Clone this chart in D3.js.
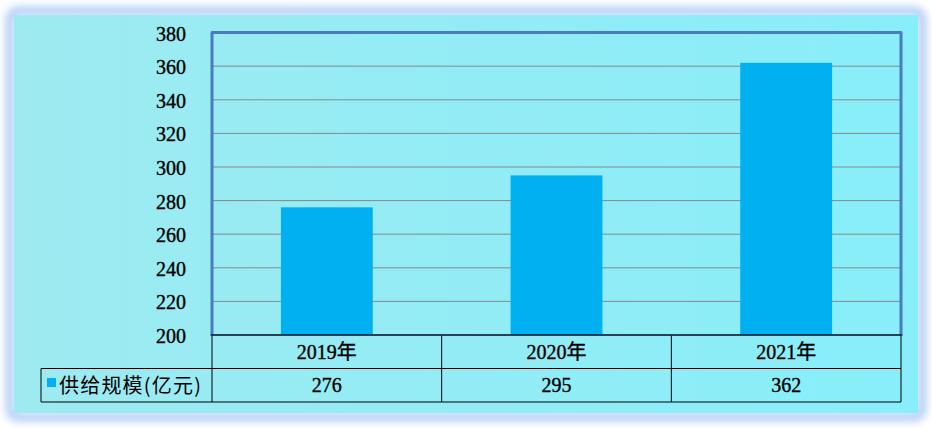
<!DOCTYPE html>
<html><head><meta charset="utf-8">
<script src="https://cdn.jsdelivr.net/npm/d3@7"></script>
<style>html,body{margin:0;padding:0;background:#fff;}svg{display:block;}</style>
</head><body><svg id="c" width="932" height="428"></svg>
<script>
const categories = ["2019年", "2020年", "2021年"];
const seriesName = "供给规模(亿元)";
const values = [276, 295, 362];
const yTicks = [200, 220, 240, 260, 280, 300, 320, 340, 360, 380];

(function(){
const svg = d3.select("#c");
const defs = svg.append("defs");
const grad = defs.append("linearGradient").attr("id","bg").attr("x1","0").attr("x2","1").attr("y1","0").attr("y2","0");
grad.append("stop").attr("offset","0").attr("stop-color","#9eeaf1");
grad.append("stop").attr("offset","1").attr("stop-color","#88eef9");
const blur = defs.append("filter").attr("id","glow").attr("x","-5%").attr("y","-5%").attr("width","110%").attr("height","110%");
blur.append("feGaussianBlur").attr("stdDeviation","4");

svg.append("rect").attr("x",10).attr("y",11).attr("width",912).attr("height",406).attr("rx",8)
  .attr("fill","none").attr("stroke","#a8c8f4").attr("stroke-width",8).attr("filter","url(#glow)");
svg.append("rect").attr("x",14).attr("y",15).attr("width",904).attr("height",398)
  .attr("fill","url(#bg)");

const pL = 212, pR = 901, pT = 32.6, pB = 335;
const x = d3.scaleBand().domain(categories).range([pL, pR]).paddingInner(0).paddingOuter(0);
const y = d3.scaleLinear().domain([200, 380]).range([pB, pT]);

svg.append("g").selectAll("line").data(yTicks.filter(t => t > 200 && t < 380)).join("line")
  .attr("x1", pL).attr("x2", pR).attr("y1", d => y(d)).attr("y2", d => y(d))
  .attr("stroke","#7f8c8c").attr("stroke-width",1);

const bw = x.bandwidth() * 0.4;
svg.append("g").selectAll("rect").data(values).join("rect")
  .attr("x", (d,i) => x(categories[i]) + (x.bandwidth()-bw)/2)
  .attr("width", bw)
  .attr("y", d => y(d)).attr("height", d => y(200) - y(d))
  .attr("fill","#00b0f0");

svg.append("path").attr("d", `M${pL},${pB}V${pT}H${pR}V${pB}`)
  .attr("fill","none").attr("stroke","#4a7bbd").attr("stroke-width",3).attr("stroke-linejoin","round");

const yAxis = d3.axisLeft(y).tickValues(yTicks).tickSize(0).tickPadding(0);
const ya = svg.append("g").attr("transform", `translate(186,1)`).call(yAxis);
ya.select(".domain").remove();
ya.selectAll("text").attr("font-family","'Liberation Serif', serif").attr("font-size",20)
  .attr("fill","#000").attr("stroke","#000").attr("stroke-width",0.35);

const rowTop = pB, rowMid = 368.5, rowBot = 402, tableLeft = 41;
const tg = svg.append("g").attr("stroke","#000").attr("stroke-width",1).attr("fill","none");
tg.append("line").attr("x1",pL).attr("x2",pR).attr("y1",rowTop).attr("y2",rowTop);
tg.append("line").attr("x1",tableLeft).attr("x2",pR).attr("y1",rowMid).attr("y2",rowMid);
tg.append("line").attr("x1",tableLeft).attr("x2",pR).attr("y1",rowBot).attr("y2",rowBot);
tg.append("line").attr("x1",tableLeft).attr("x2",tableLeft).attr("y1",rowMid).attr("y2",rowBot);
[pL, ...categories.map(c => x(c) + x.bandwidth())].forEach(xx =>
  tg.append("line").attr("x1",xx).attr("x2",xx).attr("y1",rowTop).attr("y2",rowBot));
svg.append("line").attr("x1",pL-1.5).attr("x2",pR+1.5).attr("y1",pB).attr("y2",pB)
  .attr("stroke","#1f2f4f").attr("stroke-width",1.5);

const txt = svg.append("g").attr("font-family","'Liberation Serif', 'Noto Sans CJK SC', serif").attr("font-size",20)
  .attr("fill","#000").attr("stroke","#000").attr("stroke-width",0.35).attr("text-anchor","middle");
categories.forEach((c,i) => {
  txt.append("text").attr("x", x(c)+x.bandwidth()/2).attr("y", (rowTop+rowMid)/2 + 7).text(c);
  txt.append("text").attr("x", x(c)+x.bandwidth()/2).attr("y", (rowMid+rowBot)/2 + 7).text(values[i]);
});
svg.append("rect").attr("x",47).attr("y",378).attr("width",9).attr("height",9).attr("fill","#00b0f0");
svg.append("text").attr("x",59).attr("y",(rowMid+rowBot)/2+7.5)
  .attr("font-family","'Noto Sans CJK SC', sans-serif").attr("font-size",20).attr("letter-spacing",1.2).attr("fill","#000")
  .text(seriesName);
})();
</script></body></html>
